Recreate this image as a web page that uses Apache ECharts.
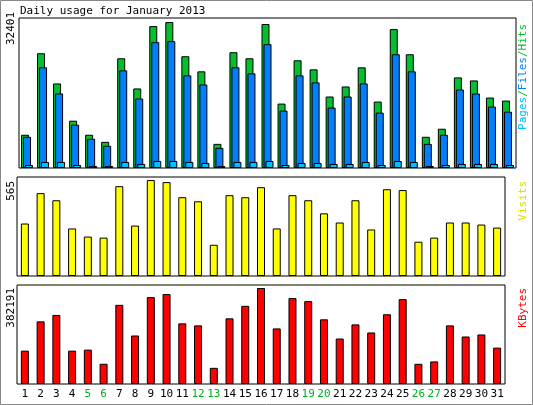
<!DOCTYPE html>
<html><head><meta charset="utf-8">
<script src="https://cdn.jsdelivr.net/npm/echarts@6/dist/echarts.min.js"></script>
<style>html,body{margin:0;padding:0;background:#fff}#c{width:533px;height:405px}</style>
</head><body><div id="c"></div>
<script>
const days = ['1','2','3','4','5','6','7','8','9','10','11','12','13','14','15','16','17','18','19','20','21','22','23','24','25','26','27','28','29','30','31'];
const weekendDays = ['5','6','12','13','19','20','26','27'];
const hits = [7380,25480,18770,10500,7380,5810,24360,17660,31510,32401,24810,21460,5360,25700,24360,31960,14300,23910,21900,15870,18100,22350,14750,30840,25250,6930,8720,20110,19440,15640,14970];
const files = [6930,22350,16540,9610,6480,4920,21680,15420,27940,28160,20560,18550,4470,22350,21010,27490,12740,20560,19000,13410,15870,18770,12290,25250,21460,5360,7380,17430,16540,13630,12510];
const pages = [670,1340,1340,670,450,450,1340,900,1560,1560,1340,1120,450,1340,1340,1560,670,1120,1120,900,900,1340,670,1560,1340,450,670,900,900,900,670];
const visits = [309,488,446,280,232,226,529,297,565,553,464,440,184,476,464,523,280,476,446,369,315,446,274,511,506,202,226,315,315,303,285];
const kbytes = [132760,249430,274900,132760,136780,80460,315140,193100,345980,358050,241380,233330,64370,261500,311110,382191,221270,341960,329890,257470,181040,237360,205170,277590,337930,80460,89850,233330,189080,197130,144830];
const maxLabels = ['32401','565','382191'];

const font = 'DejaVu Sans Mono';
const ch = echarts.init(document.getElementById('c'));
const grids = [
  {left:19, top:18, width:497, height:150},
  {left:17, top:177, width:488, height:99},
  {left:17, top:285, width:488, height:99}
].map(g => Object.assign(g, {show:true, borderColor:'#000', borderWidth:1, backgroundColor:'#fff', containLabel:false}));
const xAxes = [0,1,2].map(i => ({
  type:'category', data:days, gridIndex:i, axisLine:{show:false}, axisTick:{show:false},
  axisLabel:{show:i===2, interval:0, fontFamily:font, fontSize:11, margin:5,
    color: (v) => weekendDays.includes(v) ? '#00B020' : '#000'}
}));
const yMax = [33300, 583, 394135];
const yAxes = [0,1,2].map(i => ({type:'value', gridIndex:i, min:0, max:yMax[i], show:false}));
const bs = {borderColor:'#000', borderWidth:1};
const series = [
  {type:'bar', xAxisIndex:0, yAxisIndex:0, data:hits, barWidth:8, barGap:'-75%', itemStyle:Object.assign({color:'#00C030'},bs)},
  {type:'bar', xAxisIndex:0, yAxisIndex:0, data:files, barWidth:8, barGap:'-75%', itemStyle:Object.assign({color:'#0080FF'},bs)},
  {type:'bar', xAxisIndex:0, yAxisIndex:0, data:pages, barWidth:8, barGap:'-75%', itemStyle:Object.assign({color:'#00C0FF'},bs)},
  {type:'bar', xAxisIndex:1, yAxisIndex:1, data:visits, barWidth:8, itemStyle:Object.assign({color:'#FFFF00'},bs)},
  {type:'bar', xAxisIndex:2, yAxisIndex:2, data:kbytes, barWidth:8, itemStyle:Object.assign({color:'#FF0000'},bs)}
];
function vtext(x, y, text, color, rich) {
  return {type:'text', x:x, y:y, rotation:Math.PI/2,
    style:{text:text, fill:color, font:'11px "'+font+'"', align:'right', verticalAlign:'middle', rich:rich}};
}
const richLeg = {
  p:{fill:'#00C0FF', fontFamily:font, fontSize:11},
  f:{fill:'#0080FF', fontFamily:font, fontSize:11},
  h:{fill:'#00C030', fontFamily:font, fontSize:11}
};
ch.setOption({
  animation:false,
  backgroundColor:'#fff',
  grid:grids, xAxis:xAxes, yAxis:yAxes, series:series,
  graphic:[
    {type:'rect', shape:{x:0.5,y:0.5,width:532,height:404}, style:{fill:'none', stroke:'#888', lineWidth:1}},
    {type:'text', x:20, y:11, style:{text:'Daily usage for January 2013', font:'11px "'+font+'"', fill:'#000', verticalAlign:'middle'}},
    vtext(11, 12, maxLabels[0], '#000'),
    vtext(11, 181, maxLabels[1], '#000'),
    vtext(11, 288, maxLabels[2], '#000'),
    vtext(523, 24, '{p|Pages}{h|/}{f|Files}{h|/Hits}', '#000', richLeg),
    vtext(523, 181, 'Visits', '#E0E000'),
    vtext(523, 288, 'KBytes', '#FF0000')
  ]
});
</script></body></html>
